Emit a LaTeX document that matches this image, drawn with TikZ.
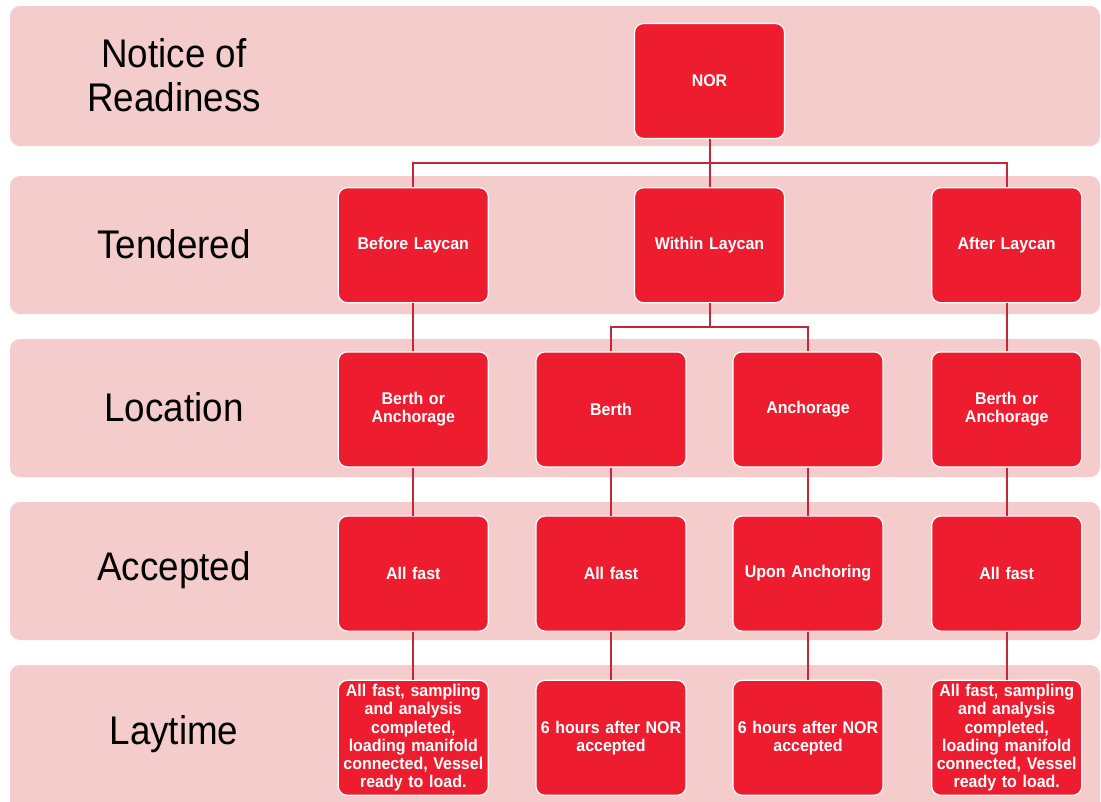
\documentclass[tikz,border=0pt]{standalone}
\usepackage{fontspec}
\setmainfont{Liberation Sans}
\newfontfamily\boxfont[FakeStretch=0.94,WordSpace=0.8]{Liberation Sans}
\newfontfamily\stagefont[FakeStretch=0.92]{Liberation Sans}
\usetikzlibrary{positioning}
\definecolor{bandpink}{RGB}{244,204,204}
\definecolor{boxred}{RGB}{237,28,46}
\definecolor{linkred}{RGB}{196,38,58}
\tikzset{
  band/.style={fill=bandpink, rounded corners=10pt},
  stage/.style={font=\stagefont\fontsize{40}{44}\selectfont, align=center, text=black},
  box/.style={draw=white, line width=1.2pt, fill=boxred, rounded corners=9pt,
    minimum width=150pt, minimum height=115pt, text width=148pt, inner sep=0pt,
    align=center, text=white, font=\boxfont\bfseries\fontsize{17}{18.3}\selectfont},
  link/.style={draw=linkred, line width=2pt},
}
\begin{document}
\begin{tikzpicture}[x=1pt, y=-1pt]
		\useasboundingbox (0,0) rectangle (1101,801) ;
		\clip (0,0) rectangle (1101,801) ;
		\fill[white] (0,0) rectangle (1101,801) ;
		% Bands
		\fill[band] (10,6) rectangle (1100,146) ;
		\fill[band] (10,176) rectangle (1100,314) ;
		\fill[band] (10,339) rectangle (1100,477) ;
		\fill[band] (10,502) rectangle (1100,640) ;
		\fill[band] (10,665) rectangle (1100,820) ;
		% Stage labels
		\node[stage] (lblNOR) at (174,75) {Notice of\\Readiness} ;
		\node[stage] (lblTend) at (174,244) {Tendered} ;
		\node[stage] (lblLoc) at (174,407) {Location} ;
		\node[stage] (lblAcc) at (174,570) {Accepted} ;
		\node[stage] (lblLay) at (174,734) {Laytime} ;
		%%%%% NOR
		\node[box] (nor) at (709.5,81) {NOR} ;
		%%%%% Tendered
		\node[box, below=48pt of nor] (within) {Within Laycan} ;
		\node[box, left=145pt of within] (before) {Before Laycan} ;
		\node[box, right=146pt of within] (after) {After Laycan} ;
		%%%%% Location
		\node[box, below=48pt of before] (locBefore) {Berth or\\Anchorage} ;
		\node[box, below=48pt of within, xshift=-98.5pt] (berth) {Berth} ;
		\node[box, below=48pt of within, xshift=98.5pt] (anchorage) {Anchorage} ;
		\node[box, below=48pt of after] (locAfter) {Berth or\\Anchorage} ;
		%%%%% Accepted
		\node[box, below=48pt of locBefore] (accBefore) {All fast} ;
		\node[box, below=48pt of berth] (accBerth) {All fast} ;
		\node[box, below=48pt of anchorage] (accAnch) {Upon Anchoring} ;
		\node[box, below=48pt of locAfter] (accAfter) {All fast} ;
		%%%%% Laytime
		\node[box, below=48pt of accBefore] (layBefore) {All fast, sampling\\and analysis\\completed,\\loading manifold\\connected, Vessel\\ready to load.} ;
		\node[box, below=48pt of accBerth] (layBerth) {6 hours after NOR\\accepted} ;
		\node[box, below=48pt of accAnch] (layAnch) {6 hours after NOR\\accepted} ;
		\node[box, below=48pt of accAfter] (layAfter) {All fast, sampling\\and analysis\\completed,\\loading manifold\\connected, Vessel\\ready to load.} ;
		% Links
		\draw[link] (nor.south) -- (within.north) ;
		\draw[link] (nor.south) -- +(0,24) -| (before.north) ;
		\draw[link] (nor.south) -- +(0,24) -| (after.north) ;
		\draw[link] (within.south) -- +(0,24) -| (berth.north) ;
		\draw[link] (within.south) -- +(0,24) -| (anchorage.north) ;
		\draw[link] (before) -- (locBefore) ;
		\draw[link] (after) -- (locAfter) ;
		\draw[link] (locBefore) -- (accBefore) ;
		\draw[link] (berth) -- (accBerth) ;
		\draw[link] (anchorage) -- (accAnch) ;
		\draw[link] (locAfter) -- (accAfter) ;
		\draw[link] (accBefore) -- (layBefore) ;
		\draw[link] (accBerth) -- (layBerth) ;
		\draw[link] (accAnch) -- (layAnch) ;
		\draw[link] (accAfter) -- (layAfter) ;
\end{tikzpicture}
\end{document}
